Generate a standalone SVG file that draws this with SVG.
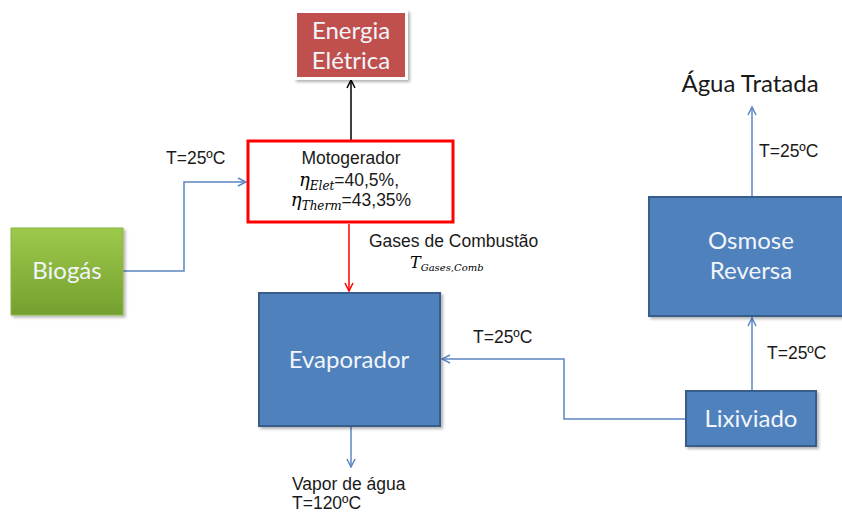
<svg xmlns="http://www.w3.org/2000/svg" width="842" height="514" viewBox="0 0 842 514">
<style>
.lbl{font-family:"Liberation Sans",Arial,sans-serif;font-size:17.5px;fill:#1a1a1a}
.box{font-family:Lato,"Open Sans",sans-serif;fill:#F2F5FA;font-size:24px}
.blue{fill:#4F81BD;stroke:#385D8A;stroke-width:2}
.conn{fill:none;stroke-width:1.5}
.math{font-family:"DejaVu Serif","Liberation Serif",serif;font-style:italic}
</style>
<defs>
<linearGradient id="gGreen" x1="0" y1="0" x2="0" y2="1">
<stop offset="0" stop-color="#9DC94B"/>
<stop offset="1" stop-color="#74A02F"/>
</linearGradient>
<filter id="sh" x="-10%" y="-10%" width="130%" height="130%">
<feDropShadow dx="2" dy="2" stdDeviation="1.5" flood-color="#000" flood-opacity="0.3"/>
</filter>
<marker id="aB" viewBox="0 0 10 10" refX="9" refY="5" markerWidth="10" markerHeight="10" markerUnits="userSpaceOnUse" orient="auto">
<path d="M1,1 L9,5 L1,9" fill="none" stroke="#5B86C2" stroke-width="1.5"/>
</marker>
<marker id="aR" viewBox="0 0 10 10" refX="9" refY="5" markerWidth="10" markerHeight="10" markerUnits="userSpaceOnUse" orient="auto">
<path d="M1,1 L9,5 L1,9" fill="none" stroke="#FF0000" stroke-width="1.5"/>
</marker>
<marker id="aK" viewBox="0 0 10 10" refX="9" refY="5" markerWidth="10" markerHeight="10" markerUnits="userSpaceOnUse" orient="auto">
<path d="M1,1 L9,5 L1,9" fill="none" stroke="#000" stroke-width="1.5"/>
</marker>
</defs>
<rect width="842" height="514" fill="#fff"/>

<g id="connectors">
<path class="conn" stroke="#5B86C2" d="M123,271 H184 V182 H246" marker-end="url(#aB)"/>
<path class="conn" stroke="#000" d="M351,140 V80" marker-end="url(#aK)"/>
<path class="conn" stroke="#FF0000" d="M349,224 V291" marker-end="url(#aR)"/>
<path class="conn" stroke="#5B86C2" d="M351,427 V467" marker-end="url(#aB)"/>
<path class="conn" stroke="#5B86C2" d="M686,419 H564 V359 H442" marker-end="url(#aB)"/>
<path class="conn" stroke="#5B86C2" d="M752,390 V318" marker-end="url(#aB)"/>
<path class="conn" stroke="#5B86C2" d="M752,196 V107" marker-end="url(#aB)"/>
<text class="lbl" x="166" y="164">T=25ºC</text>
<text class="lbl" x="369" y="247" font-size="15">Gases de Combustão</text>
<text x="410" y="268"><tspan class="math" font-size="16">T</tspan><tspan class="math" font-size="10" dy="3">Gases,Comb</tspan></text>
<text class="lbl" x="473" y="343">T=25ºC</text>
<text class="lbl" x="767" y="359">T=25ºC</text>
<text class="lbl" x="759" y="157">T=25ºC</text>
<text class="lbl" x="292" y="490">Vapor de água</text>
<text class="lbl" x="292" y="509">T=120ºC</text>
</g>

<g id="energia">
<rect x="294" y="10" width="114" height="70" fill="#fff" filter="url(#sh)"/>
<rect x="297" y="13" width="108" height="64" fill="#C0504D"/>
<text class="box" x="351" y="39" text-anchor="middle">Energia</text>
<text class="box" x="351" y="69" text-anchor="middle">Elétrica</text>
</g>

<g id="motogerador">
<rect x="248" y="141" width="205" height="81" fill="#fff" stroke="#FF0000" stroke-width="3"/>
<text class="lbl" x="351" y="164" text-anchor="middle">Motogerador</text>
<text x="349" y="186" text-anchor="middle"><tspan class="math" font-size="18">η</tspan><tspan class="math" font-size="12" dy="4">Elet</tspan><tspan class="lbl" dy="-4">=40,5%,</tspan></text>
<text x="351" y="206" text-anchor="middle"><tspan class="math" font-size="18">η</tspan><tspan class="math" font-size="12" dy="4">Therm</tspan><tspan class="lbl" dy="-4">=43,35%</tspan></text>
</g>

<g id="biogas">
<rect x="11" y="228" width="112" height="87" fill="url(#gGreen)" stroke="#8AB644" stroke-width="1" filter="url(#sh)"/>
<text class="box" x="67" y="279" text-anchor="middle">Biogás</text>
</g>

<g id="evaporador">
<rect class="blue" x="259" y="293" width="181" height="133" filter="url(#sh)"/>
<text class="box" x="349" y="368" text-anchor="middle">Evaporador</text>
</g>

<g id="osmose">
<rect class="blue" x="649" y="197" width="206" height="119" filter="url(#sh)"/>
<text class="box" x="751" y="249" text-anchor="middle">Osmose</text>
<text class="box" x="751" y="279" text-anchor="middle">Reversa</text>
</g>

<g id="lixiviado">
<rect class="blue" x="686" y="391" width="130" height="55" filter="url(#sh)"/>
<text class="box" x="751" y="427" text-anchor="middle">Lixiviado</text>
</g>

<g id="agua">
<text x="750" y="92" font-family="Lato,'Open Sans',sans-serif" font-size="24" fill="#1a1a1a" text-anchor="middle">Água Tratada</text>
</g>
</svg>
